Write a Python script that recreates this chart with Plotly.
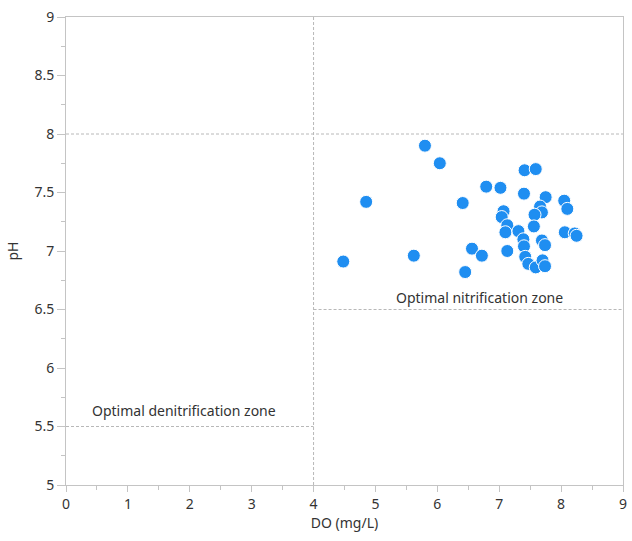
import plotly.graph_objects as go

do_mgL = [4.48, 4.85, 5.80, 6.04, 5.62, 6.41, 7.41, 7.59, 6.79, 7.02, 7.40, 7.75,
          8.05, 8.10, 7.66, 7.69, 7.57, 7.07, 7.04, 7.13, 7.10, 7.31, 7.56, 8.06,
          8.22, 8.25, 7.39, 7.40, 7.69, 7.74, 7.13, 6.56, 6.72, 6.45, 7.42, 7.47,
          7.59, 7.70, 7.74]
ph = [6.91, 7.42, 7.90, 7.75, 6.96, 7.41, 7.69, 7.70, 7.55, 7.54, 7.49, 7.46,
      7.43, 7.36, 7.38, 7.33, 7.31, 7.34, 7.29, 7.22, 7.16, 7.17, 7.21, 7.16,
      7.15, 7.13, 7.10, 7.04, 7.09, 7.05, 7.00, 7.02, 6.96, 6.82, 6.95, 6.89,
      6.86, 6.92, 6.87]

zone_labels = ["Optimal nitrification zone", "Optimal denitrification zone"]
zone_label_x = [6.68, 1.91]
zone_label_y = [6.60, 5.64]

x_ticks = list(range(0, 10))
y_ticks = [5, 5.5, 6, 6.5, 7, 7.5, 8, 8.5, 9]
y_tick_text = ["5", "5.5", "6", "6.5", "7", "7.5", "8", "8.5", "9"]

FONT = "Noto Sans"
AX = "#c4c4c4"
GRID = "#b8b8b8"
TXT = "#333333"

fig = go.Figure()
fig.add_trace(go.Scatter(
    x=do_mgL, y=ph, mode="markers",
    marker=dict(size=13, color="#1f8ef1", line=dict(color="white", width=1)),
    showlegend=False, hoverinfo="skip"))

dash = dict(color=GRID, width=1, dash="3px,2px")
fig.add_shape(type="line", x0=0, x1=9, y0=8, y1=8, line=dash, layer="below")
fig.add_shape(type="line", x0=4, x1=9, y0=6.5, y1=6.5, line=dash, layer="below")
fig.add_shape(type="line", x0=0, x1=4, y0=5.5, y1=5.5, line=dash, layer="below")
fig.add_shape(type="line", x0=4, x1=4, y0=5, y1=9, line=dash, layer="below")

for t, xx, yy in zip(zone_labels, zone_label_x, zone_label_y):
    fig.add_annotation(x=xx, y=yy, text=t, showarrow=False,
                       font=dict(family=FONT, size=14, color=TXT))

fig.update_layout(
    width=632, height=541,
    margin=dict(l=66, r=5, t=17, b=56),
    plot_bgcolor="white", paper_bgcolor="white",
    font=dict(family=FONT, size=14, color=TXT),
    xaxis=dict(range=[0, 9], tickvals=x_ticks, showgrid=False, zeroline=False,
               showline=True, linecolor=AX, linewidth=1, mirror=True,
               ticks="outside", ticklen=6, tickcolor=AX,
               minor=dict(dtick=0.5, ticks="outside", ticklen=4, tickcolor=AX, showgrid=False),
               title=dict(text="DO (mg/L)", standoff=4,
                          font=dict(family=FONT, size=14, color=TXT))),
    yaxis=dict(range=[5, 9], tickvals=y_ticks, ticktext=y_tick_text, showgrid=False,
               zeroline=False, showline=True, linecolor=AX, linewidth=1, mirror=True,
               ticks="outside", ticklen=8, tickcolor=AX,
               minor=dict(dtick=0.25, ticks="outside", ticklen=4, tickcolor=AX, showgrid=False),
               title=dict(text="pH", standoff=12,
                          font=dict(family=FONT, size=14, color=TXT))),
)

fig.write_html("out.html")
